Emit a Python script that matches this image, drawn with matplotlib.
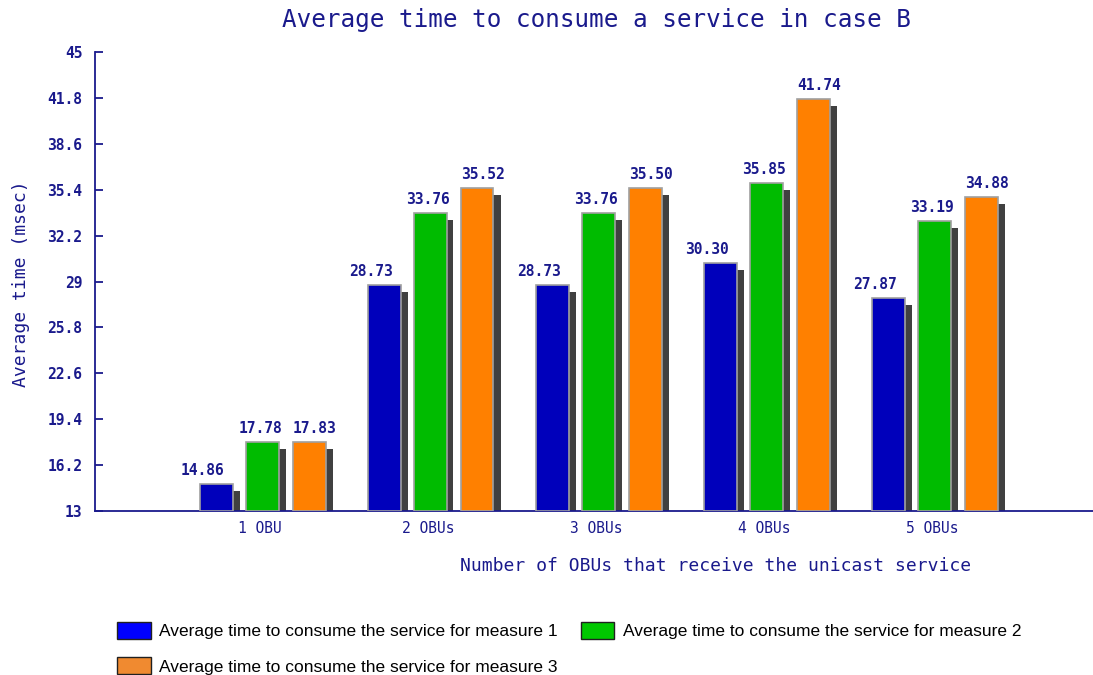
import matplotlib
matplotlib.use("Agg")
import matplotlib.pyplot as plt
from matplotlib.patches import Patch
import numpy as np

# Data
categories = ["1 OBU", "2 OBUs", "3 OBUs", "4 OBUs", "5 OBUs"]
measure1 = [14.86, 28.73, 28.73, 30.30, 27.87]
measure2 = [17.78, 33.76, 33.76, 35.85, 33.19]
measure3 = [17.83, 35.52, 35.50, 41.74, 34.88]
series_names = [
    "Average time to consume the service for measure 1",
    "Average time to consume the service for measure 2",
    "Average time to consume the service for measure 3",
]
yticks = [13, 16.2, 19.4, 22.6, 25.8, 29, 32.2, 35.4, 38.6, 41.8, 45]

bar_colors = ["#0000bb", "#00bb00", "#ff8000"]
legend_colors = ["#0000ff", "#00c800", "#f08a30"]
shadow_color = "#404040"
navy = "#1a1a8c"

W, H, DPI = 1093, 675, 100
fig = plt.figure(figsize=(W / DPI, H / DPI), dpi=DPI)

ax_left, ax_bottom_px, ax_top_px = 95, 511, 52
ax = fig.add_axes([ax_left / W, (H - ax_bottom_px) / H,
                   (W - ax_left) / W, (ax_bottom_px - ax_top_px) / H])

ymin, ymax = 13, 45
group_px = 168.0
ax.set_xlim(0, (W - ax_left) / group_px)
ax.set_ylim(ymin, ymax)

px_x = 1.0 / group_px                              # data units per pixel (x)
px_y = (ymax - ymin) / (ax_bottom_px - ax_top_px)  # data units per pixel (y)

x = np.arange(1, len(categories) + 1)
bar_w = 33 * px_x
offsets = [-47 * px_x, -1 * px_x, 46 * px_x]
label_shift = [-13 * px_x, -2 * px_x, 6 * px_x]
shadow_dx, shadow_dy = 7 * px_x, 7 * px_y

for series, color, off, lshift in zip([measure1, measure2, measure3],
                                      bar_colors, offsets, label_shift):
    vals = np.array(series)
    xs = x + off
    # drop shadow behind each bar
    ax.bar(xs + shadow_dx, vals - shadow_dy - ymin, bottom=ymin, width=bar_w,
           color=shadow_color, linewidth=0, zorder=2)
    ax.bar(xs, vals - ymin, bottom=ymin, width=bar_w, color=color,
           edgecolor="#a0a0a0", linewidth=1.2, zorder=3)
    for xi, v in zip(xs, vals):
        ax.text(xi + lshift, v + 9 * px_y, f"{v:.2f}", ha="center",
                va="baseline", fontsize=10.5, fontweight="bold",
                family="DejaVu Sans Mono", color=navy, zorder=4)

# Axes styling
for s in ["top", "right"]:
    ax.spines[s].set_visible(False)
for s in ["left", "bottom"]:
    ax.spines[s].set_color(navy)
    ax.spines[s].set_linewidth(1.3)

ax.set_yticks(yticks)
ax.set_yticklabels([f"{t:g}" for t in yticks], family="DejaVu Sans Mono",
                   fontweight="bold", fontsize=10.5, color=navy)
ax.tick_params(axis="y", direction="in", length=6, width=1.3, color=navy, pad=9)
ax.set_xticks(x - 3 * px_x)
ax.set_xticklabels(categories, family="DejaVu Sans Mono", fontsize=10.5,
                   color=navy)
ax.tick_params(axis="x", length=0, pad=7)

# Titles
fig.text(596 / W, 1 - 20 / H, "Average time to consume a service in case B",
         ha="center", va="center", family="DejaVu Sans Mono", fontsize=17.5,
         color=navy)
fig.text(716 / W, 1 - 566 / H, "Number of OBUs that receive the unicast service",
         ha="center", va="center", family="DejaVu Sans Mono", fontsize=13,
         color=navy)
fig.text(21 / W, 1 - 284 / H, "Average time (msec)", ha="center", va="center",
         rotation=90, family="DejaVu Sans Mono", fontsize=13, color=navy)

# Legend
handles = [Patch(facecolor=c, edgecolor="#202020", linewidth=1.0)
           for c in legend_colors]
order = [0, 2, 1]
fig.legend([handles[i] for i in order], [series_names[i] for i in order],
           ncol=2, loc="upper left", bbox_to_anchor=(103 / W, 1 - 608 / H),
           frameon=False, prop={"family": "Liberation Sans", "size": 12.5},
           handlelength=1.95, handleheight=1.1, handletextpad=0.5,
           labelspacing=1.05, columnspacing=1.3, borderpad=0.3)

fig.savefig("out.png", dpi=DPI)
